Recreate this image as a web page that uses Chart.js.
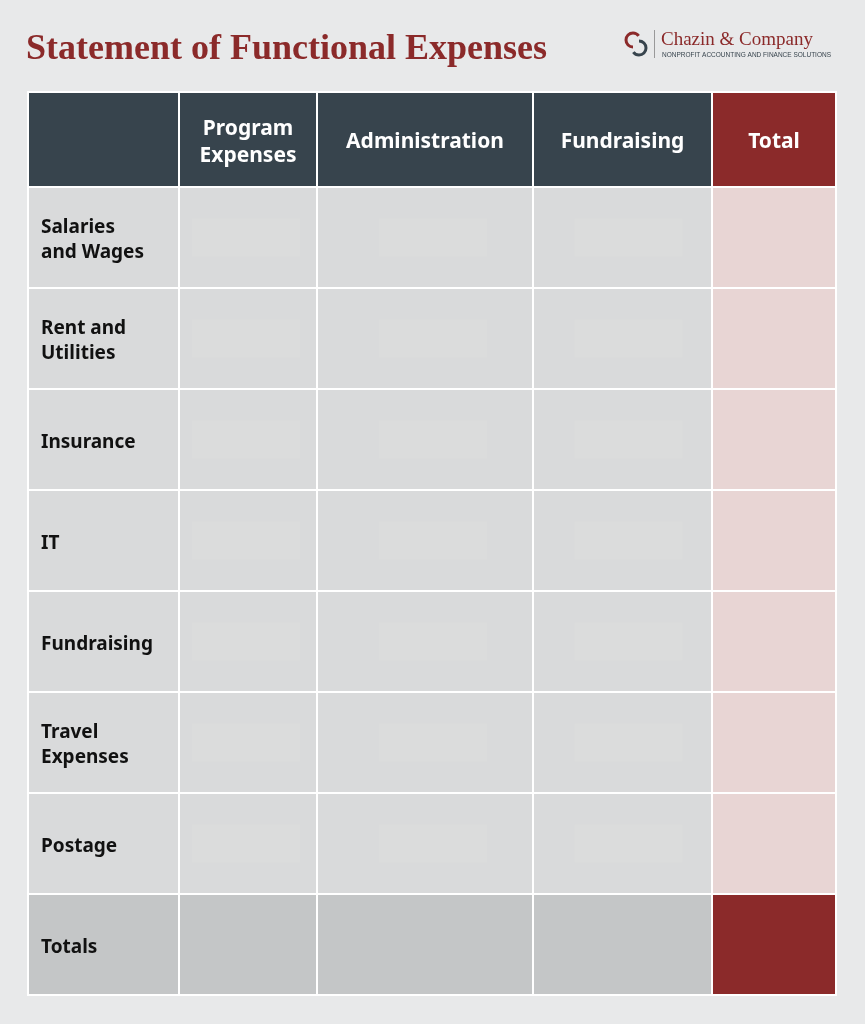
<!DOCTYPE html>
<html>
<head>
<meta charset="utf-8">
<script src="https://cdn.jsdelivr.net/npm/chart.js@4.4.1/dist/chart.umd.min.js"></script>
<style>
  html, body { margin: 0; padding: 0; background: #e8e9ea; }
  #wrap { width: 865px; height: 1024px; position: relative; }
</style>
</head>
<body>
<div id="wrap"><canvas id="tabla" width="865" height="1024"></canvas></div>
<script>
// column / row boundaries in table units
const colEdges = [0, 151, 289, 505, 684, 808];
const rowEdges = [0, 95, 196, 297, 398, 499, 600, 701, 802, 903];
const columnas = [["", ""], ["Program", "Expenses"], ["Administration"], ["Fundraising"], ["Total"]];
const filas = [["Salaries", "and Wages"], ["Rent and", "Utilities"], ["Insurance"], ["IT"], ["Fundraising"], ["Travel", "Expenses"], ["Postage"], ["Totals"]];

const ROJO = "#8b2a2a";

const tablaPlugin = {
  id: "tabla",
  beforeDatasetsDraw(chart) {
    const { ctx, scales: { x, y } } = chart;
    ctx.save();
    // titulo
    ctx.fillStyle = ROJO;
    ctx.font = "bold 36px 'Liberation Serif', serif";
    ctx.textBaseline = "middle";
    ctx.fillText("Statement of Functional Expenses", 26, 50);
    // logo
    ctx.strokeStyle = ROJO; ctx.lineWidth = 3;
    ctx.beginPath(); ctx.arc(633, 40, 7, Math.PI * 0.5, Math.PI * 1.8); ctx.stroke();
    ctx.strokeStyle = "#37444d";
    ctx.beginPath(); ctx.arc(639, 48, 7, Math.PI * 1.5, Math.PI * 0.8); ctx.stroke();
    ctx.fillStyle = "#999"; ctx.fillRect(654, 30, 1, 28);
    ctx.fillStyle = ROJO;
    ctx.font = "19px 'Liberation Serif', serif";
    ctx.fillText("Chazin & Company", 661, 40);
    ctx.fillStyle = "#37444d";
    ctx.font = "6.5px 'Liberation Sans', sans-serif";
    ctx.fillText("NONPROFIT ACCOUNTING AND FINANCE SOLUTIONS", 662, 55);

    const nr = rowEdges.length - 1, nc = colEdges.length - 1;
    for (let r = 0; r < nr; r++) {
      for (let c = 0; c < nc; c++) {
        const x0 = x.getPixelForValue(colEdges[c]), x1 = x.getPixelForValue(colEdges[c + 1]);
        const y0 = y.getPixelForValue(rowEdges[r]), y1 = y.getPixelForValue(rowEdges[r + 1]);
        let color;
        if (r === 0) color = c === nc - 1 ? ROJO : "#37444d";
        else if (r === nr - 1) color = c === nc - 1 ? ROJO : "#c4c6c7";
        else color = c === nc - 1 ? "#e8d5d4" : "#d9dadb";
        ctx.fillStyle = color;
        ctx.fillRect(x0, y0, x1 - x0, y1 - y0);
        ctx.strokeStyle = "#ffffff"; ctx.lineWidth = 2;
        ctx.strokeRect(x0, y0, x1 - x0, y1 - y0);
        // placeholder boxes
        if (r > 0 && r < nr - 1 && c > 0 && c < nc - 1) {
          const cx = (x0 + x1) / 2 + (c === 1 ? -2 : c === 2 ? 8 : 6);
          const cy = (y0 + y1) / 2;
          ctx.fillStyle = "#dbdcdc";
          ctx.fillRect(cx - 54, cy - 19, 108, 38);
        }
        // texto
        let lineas = null;
        if (r === 0 && c > 0) { lineas = columnas[c]; ctx.fillStyle = "#ffffff"; ctx.textAlign = "center"; }
        if (r > 0 && c === 0) { lineas = filas[r - 1]; ctx.fillStyle = "#111111"; ctx.textAlign = "left"; }
        if (lineas) {
          ctx.font = r === 0 ? "bold 21px 'Noto Sans', sans-serif" : "bold 19px 'Noto Sans', sans-serif";
          const lh = r === 0 ? 27 : 25;
          const tx = r === 0 ? (x0 + x1) / 2 : x0 + 13;
          const ty = (y0 + y1) / 2 - (lineas.length - 1) * lh / 2 + 3;
          lineas.forEach((t, i) => ctx.fillText(t, tx, ty + i * lh));
        }
      }
    }
    ctx.restore();
  }
};

new Chart(document.getElementById("tabla").getContext("2d"), {
  type: "scatter",
  data: { datasets: [{ data: [] }] },
  options: {
    responsive: false,
    animation: false,
    layout: { padding: { left: 28, right: 29, top: 92, bottom: 29 } },
    plugins: { legend: { display: false }, tooltip: { enabled: false } },
    scales: {
      x: { type: "linear", min: colEdges[0], max: colEdges[colEdges.length - 1], display: false },
      y: { type: "linear", min: rowEdges[0], max: rowEdges[rowEdges.length - 1], reverse: true, display: false }
    }
  },
  plugins: [tablaPlugin]
});
</script>
</body>
</html>
